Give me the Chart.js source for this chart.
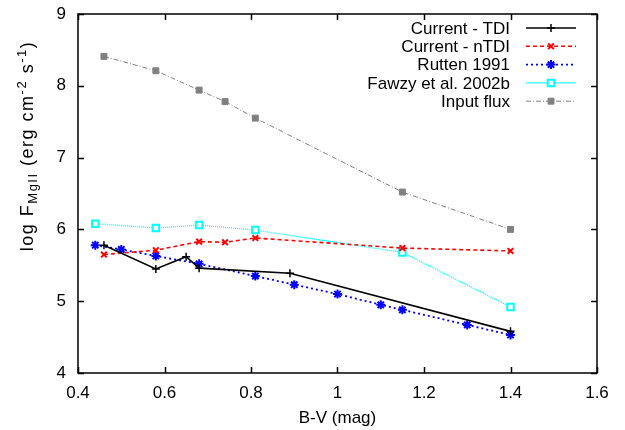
<!DOCTYPE html>
<html>
<head>
<meta charset="utf-8">
<script src="https://cdn.jsdelivr.net/npm/chart.js@4/dist/chart.umd.min.js"></script>
<style>
  html, body { margin: 0; padding: 0; background: #fff; }
</style>
</head>
<body>
<canvas id="myChart" width="625" height="430"></canvas>
<script>
// B-V colour index and log F(MgII) for each series
const tdiX = [0.46, 0.58, 0.65, 0.68, 0.89, 1.40];
const tdiY = [5.78, 5.45, 5.62, 5.46, 5.39, 4.58];

const ntdiX = [0.46, 0.58, 0.68, 0.74, 0.81, 1.15, 1.40];
const ntdiY = [5.65, 5.71, 5.83, 5.82, 5.88, 5.74, 5.70];

const ruttenX = [0.44, 0.50, 0.58, 0.68, 0.81, 0.90, 1.00, 1.10, 1.15, 1.30, 1.40];
const ruttenY = [5.78, 5.72, 5.63, 5.52, 5.35, 5.23, 5.10, 4.95, 4.88, 4.67, 4.53];

const fawzyX = [0.44, 0.58, 0.68, 0.81, 1.15, 1.40];
const fawzyY = [6.08, 6.02, 6.06, 5.99, 5.68, 4.92];

const inputX = [0.46, 0.58, 0.68, 0.74, 0.81, 1.15, 1.40];
const inputY = [8.41, 8.21, 7.94, 7.78, 7.55, 6.52, 6.00];

const FONT = '"Liberation Sans", Arial, sans-serif';

function pts(xs, ys) {
    return xs.map((x, i) => ({ x: x, y: ys[i] }));
}

// box round the plot with inward ticks on all four sides
const frame = {
    id: 'frame',
    afterDraw(chart) {
        const ctx = chart.ctx;
        const a = chart.chartArea;
        const tl = 6;
        ctx.save();
        ctx.strokeStyle = '#000';
        ctx.lineWidth = 1.5;
        ctx.beginPath();
        chart.scales.x.ticks.forEach(t => {
            const px = Math.round(chart.scales.x.getPixelForValue(t.value)) + 0.5;
            ctx.moveTo(px, a.bottom); ctx.lineTo(px, a.bottom - tl);
            ctx.moveTo(px, a.top); ctx.lineTo(px, a.top + tl);
        });
        chart.scales.y.ticks.forEach(t => {
            const py = Math.round(chart.scales.y.getPixelForValue(t.value)) + 0.5;
            ctx.moveTo(a.left, py); ctx.lineTo(a.left + tl, py);
            ctx.moveTo(a.right, py); ctx.lineTo(a.right - tl, py);
        });
        ctx.stroke();
        ctx.strokeRect(a.left, a.top, a.right - a.left, a.bottom - a.top);

        // axis titles
        ctx.fillStyle = '#000';
        ctx.font = '17px ' + FONT;
        ctx.textAlign = 'center';
        ctx.textBaseline = 'alphabetic';
        ctx.fillText('B-V (mag)', (a.left + a.right) / 2, 423);

        const parts = [
            ['log F', 18, 0],
            ['MgII', 13, 4],
            [' (erg cm', 18, 0],
            ['-2', 13, -7],
            [' s', 18, 0],
            ['-1', 13, -7],
            [')', 18, 0]
        ];
        ctx.letterSpacing = '1.5px';
        let total = 0;
        parts.forEach(p => { ctx.font = p[1] + 'px ' + FONT; total += ctx.measureText(p[0]).width; });
        ctx.translate(33, 146);
        ctx.rotate(-Math.PI / 2);
        ctx.textAlign = 'left';
        let x = -total / 2;
        parts.forEach(p => {
            ctx.font = p[1] + 'px ' + FONT;
            ctx.fillText(p[0], x, p[2]);
            x += ctx.measureText(p[0]).width;
        });
        ctx.restore();
    }
};

// key in the top right corner: label, then a line sample with its marker
const key = {
    id: 'key',
    afterDatasetsDraw(chart) {
        const ctx = chart.ctx;
        const a = chart.chartArea;
        chart.data.datasets.forEach((ds, i) => {
            const y = a.top + 14 + i * 18.3;
            ctx.save();
            ctx.font = '17px ' + FONT;
            ctx.fillStyle = '#000';
            ctx.textAlign = 'right';
            ctx.textBaseline = 'middle';
            ctx.fillText(ds.label, a.right - 87, y + 1);
            ctx.strokeStyle = ds.borderColor;
            ctx.lineWidth = ds.borderWidth;
            ctx.setLineDash(ds.borderDash || []);
            ctx.beginPath();
            ctx.moveTo(a.right - 71, y);
            ctx.lineTo(a.right - 21, y);
            ctx.stroke();
            ctx.setLineDash([]);
            ctx.fillStyle = ds.pointBackgroundColor;
            ctx.strokeStyle = ds.pointBorderColor;
            ctx.lineWidth = ds.pointBorderWidth;
            Chart.helpers.drawPoint(ctx, {
                pointStyle: ds.pointStyle,
                radius: ds.pointRadius,
                borderWidth: ds.pointBorderWidth,
                rotation: 0
            }, a.right - 46, y);
            ctx.restore();
        });
    }
};

function series(label, xs, ys, color, dash, width, style, radius, fill, pw) {
    return {
        label: label,
        data: pts(xs, ys),
        showLine: true,
        borderColor: color,
        borderWidth: width,
        borderDash: dash,
        pointStyle: style,
        pointRadius: radius,
        pointHoverRadius: radius,
        pointBackgroundColor: fill,
        pointBorderColor: color,
        pointBorderWidth: pw,
        tension: 0,
        fill: false
    };
}

new Chart(document.getElementById('myChart'), {
    type: 'scatter',
    data: {
        datasets: [
            series('Current - TDI', tdiX, tdiY, '#000000', [], 1.6, 'cross', 4, '#000000', 1.5),
            series('Current - nTDI', ntdiX, ntdiY, '#ff0000', [4, 3], 1.6, 'crossRot', 4, '#ff0000', 2),
            series('Rutten 1991', ruttenX, ruttenY, '#0000ff', [2, 3], 1.8, 'star', 4.5, '#0000ff', 2),
            series('Fawzy et al. 2002b', fawzyX, fawzyY, '#00ffff', [1, 1], 1.4, 'rect', 4.6, '#ffffff', 2),
            series('Input flux', inputX, inputY, '#808080', [5, 2, 1, 2], 1, 'rect', 4.2, '#808080', 1)
        ]
    },
    options: {
        responsive: false,
        animation: false,
        devicePixelRatio: 1,
        layout: { padding: { left: 0, right: 28, top: 14, bottom: 0 } },
        plugins: {
            legend: { display: false },
            tooltip: { enabled: false }
        },
        scales: {
            x: {
                type: 'linear',
                min: 0.4,
                max: 1.6,
                afterFit: s => { s.height = 57; s.paddingLeft = 0; s.paddingRight = 0; },
                ticks: {
                    stepSize: 0.2,
                    color: '#000',
                    padding: 10,
                    maxRotation: 0,
                    autoSkip: false,
                    font: { family: FONT, size: 17 },
                    callback: v => String(+v.toFixed(1))
                },
                grid: { display: false, drawTicks: false },
                border: { display: false }
            },
            y: {
                min: 4,
                max: 9,
                afterFit: s => { s.width = 78; s.paddingTop = 0; s.paddingBottom = 0; },
                ticks: {
                    stepSize: 1,
                    color: '#000',
                    padding: 12,
                    font: { family: FONT, size: 17 }
                },
                grid: { display: false, drawTicks: false },
                border: { display: false }
            }
        }
    },
    plugins: [frame, key]
});
</script>
</body>
</html>
